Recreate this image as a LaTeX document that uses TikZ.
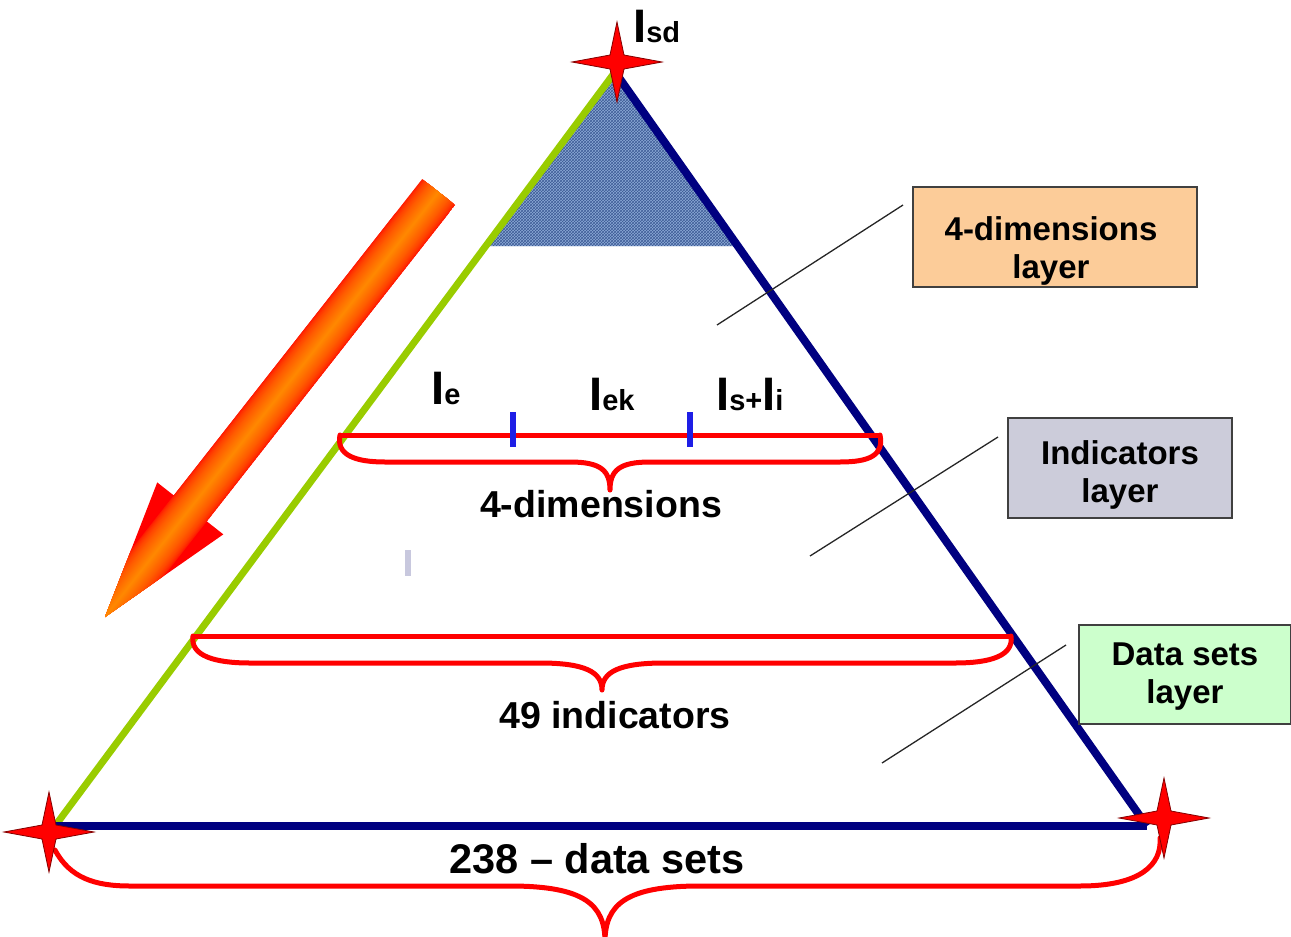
\documentclass[tikz,border=0pt]{standalone}
\usepackage{fontspec}
\setmainfont{Liberation Sans}
\usetikzlibrary{patterns}

\definecolor{leafgreen}{RGB}{153,204,0}
\definecolor{deepnavy}{RGB}{0,0,128}
\definecolor{bracered}{RGB}{255,0,0}
\definecolor{tickblue}{RGB}{30,30,230}
\definecolor{peach}{RGB}{252,204,153}
\definecolor{slatebox}{RGB}{204,204,218}
\definecolor{mintbox}{RGB}{204,255,204}
\definecolor{denim}{RGB}{140,170,215}
\definecolor{denimdark}{RGB}{62,92,150}
\definecolor{flame}{RGB}{255,135,0}
\definecolor{starrim}{RGB}{130,0,0}
\definecolor{paleslate}{RGB}{200,200,222}

\tikzset{
  sidegreen/.style={draw=leafgreen, line width=7pt},
  sidenavy/.style={draw=deepnavy, line width=8pt},
  levelline/.style={draw=bracered, line width=5pt},
  bracepen/.style={draw=bracered, line width=5pt, line cap=round, line join=round},
  tickmark/.style={draw=tickblue, line width=5.5pt},
  leader/.style={draw=black!85, line width=1.3pt},
  layerbox/.style={draw=black!75, line width=1.5pt, inner sep=0pt},
  layertext/.style={align=center, inner sep=0pt, font=\bfseries\fontsize{33}{38}\selectfont},
  biglabel/.style={anchor=base, inner sep=0pt, font=\bfseries\fontsize{37.5}{40}\selectfont},
  idxlabel/.style={anchor=base west, inner sep=0pt, font=\bfseries\fontsize{47}{47}\selectfont},
  spark/.pic={
    \fill[red, draw=starrim, line width=0.8pt]
      (0,-40) -- (7,-7) -- (45,0) -- (7,7) -- (0,40) -- (-7,7) -- (-45,0) -- (-7,-7) -- cycle;
  }
}
\newcommand{\subtxt}[1]{{\fontsize{29}{29}\selectfont #1}}

\begin{document}
\begin{tikzpicture}[x=1pt, y=-1pt]
\useasboundingbox (0,0) rectangle (1291,937);

% corners of the pyramid
\coordinate (apex) at (615,72);
\coordinate (bl) at (55,826);
\coordinate (br) at (1147,826);

% textured cap of the pyramid
\fill[denim] (apex) -- (489,246) -- (742,246) -- cycle;
\fill[pattern=crosshatch, pattern color=denimdark] (apex) -- (489,246) -- (742,246) -- cycle;

% gradient arrow pointing down the left side
\begin{scope}[shift={(105,617)}, x={(0.618pt,0.787pt)}, y={(0.787pt,-0.618pt)}]
  \clip (0,0) -- (138,-42) -- (138,-21) -- (540,-21) -- (540,21) -- (138,21) -- (138,42) -- cycle;
  \fill[red] (-10,-60) rectangle (560,60);
  \foreach \k in {1,...,21} {
    \pgfmathtruncatemacro{\pc}{100*sqrt(\k/21)}
    \pgfmathsetmacro{\wd}{2*(22-\k)}
    \draw[line width=\wd pt, color=flame!\pc!red] (-10,0) -- (560,0);
  }
\end{scope}

% sides of the pyramid
\draw[sidegreen] (apex) -- (bl);
\draw[sidenavy] (apex) -- (br);
\draw[sidenavy] (bl) -- (br);

% leader lines towards the layer boxes
\coordinate (ld1a) at (717,325);  \coordinate (ld1b) at (903,205);
\coordinate (ld2a) at (810,556);  \coordinate (ld2b) at (998,437);
\coordinate (ld3a) at (882,763);  \coordinate (ld3b) at (1066,645);
\draw[leader] (ld1a) -- (ld1b);
\draw[leader] (ld2a) -- (ld2b);
\draw[leader] (ld3a) -- (ld3b);

% dimensions level
\coordinate (d1l) at (340,435);
\coordinate (d1r) at (880,435);
\draw[levelline] (d1l) -- (d1r);
\draw[bracepen] (d1l) .. controls (336,455) and (355,462) .. (385,462) -- (570,462)
  .. controls (600,462) and (610,470) .. (610,490)
  .. controls (610,470) and (620,462) .. (650,462) -- (840,462)
  .. controls (870,462) and (884,455) .. (d1r);
\draw[tickmark] (513,412) -- (513,447);
\draw[tickmark] (690,412) -- (690,447);

% indicators level
\coordinate (d2l) at (193,636);
\coordinate (d2r) at (1011,636);
\draw[levelline] (d2l) -- (d2r);
\draw[bracepen] (d2l) .. controls (190,656) and (215,663) .. (250,663) -- (540,663)
  .. controls (585,663) and (602,672) .. (602,690)
  .. controls (602,672) and (619,663) .. (664,663) -- (955,663)
  .. controls (990,663) and (1014,656) .. (d2r);

% data sets level
\coordinate (d3l) at (55,850);
\coordinate (d3r) at (1160,838);
\draw[bracepen] (d3l) .. controls (70,878) and (95,886) .. (130,886) -- (510,886)
  .. controls (585,886) and (605,905) .. (605,942)
  .. controls (605,905) and (625,886) .. (700,886) -- (1080,886)
  .. controls (1140,886) and (1162,865) .. (d3r);

% small mark
\fill[paleslate] (405,550) rectangle (411,576);

% corner stars
\pic at (617,62) {spark};
\pic at (49,832) {spark};
\pic at (1164,818) {spark};

% labels
\node[idxlabel] (isd) at (633,42) {I\subtxt{sd}};
\node[idxlabel] (ie) at (431,404) {I\subtxt{e}};
\node[idxlabel] (iek) at (589,410) {I\subtxt{ek}};
\node[idxlabel] (isi) at (716,410) {I\subtxt{s+}I\subtxt{i}};
\node[biglabel] (dimlbl) at (601,517) {4-dimensions};
\node[biglabel] (indlbl) at (615,728) {49 indicators};
\node[biglabel, font=\bfseries\fontsize{41.5}{44}\selectfont] (datlbl) at (597,873) {238 – data sets};

% layer boxes
\node[layerbox, fill=peach, minimum width=284pt, minimum height=100pt] (box1) at (1055,237) {};
\node[layerbox, fill=slatebox, minimum width=224pt, minimum height=100pt] (box2) at (1120,468) {};
\node[layerbox, fill=mintbox, minimum width=212pt, minimum height=99pt] (box3) at (1185,674.5) {};
\node[layertext] (box1txt) at (1051,251) {4-dimensions\\layer};
\node[layertext] (box2txt) at (1120,475) {Indicators\\layer};
\node[layertext] (box3txt) at (1185,677) {Data sets\\layer};
\end{tikzpicture}
\end{document}
